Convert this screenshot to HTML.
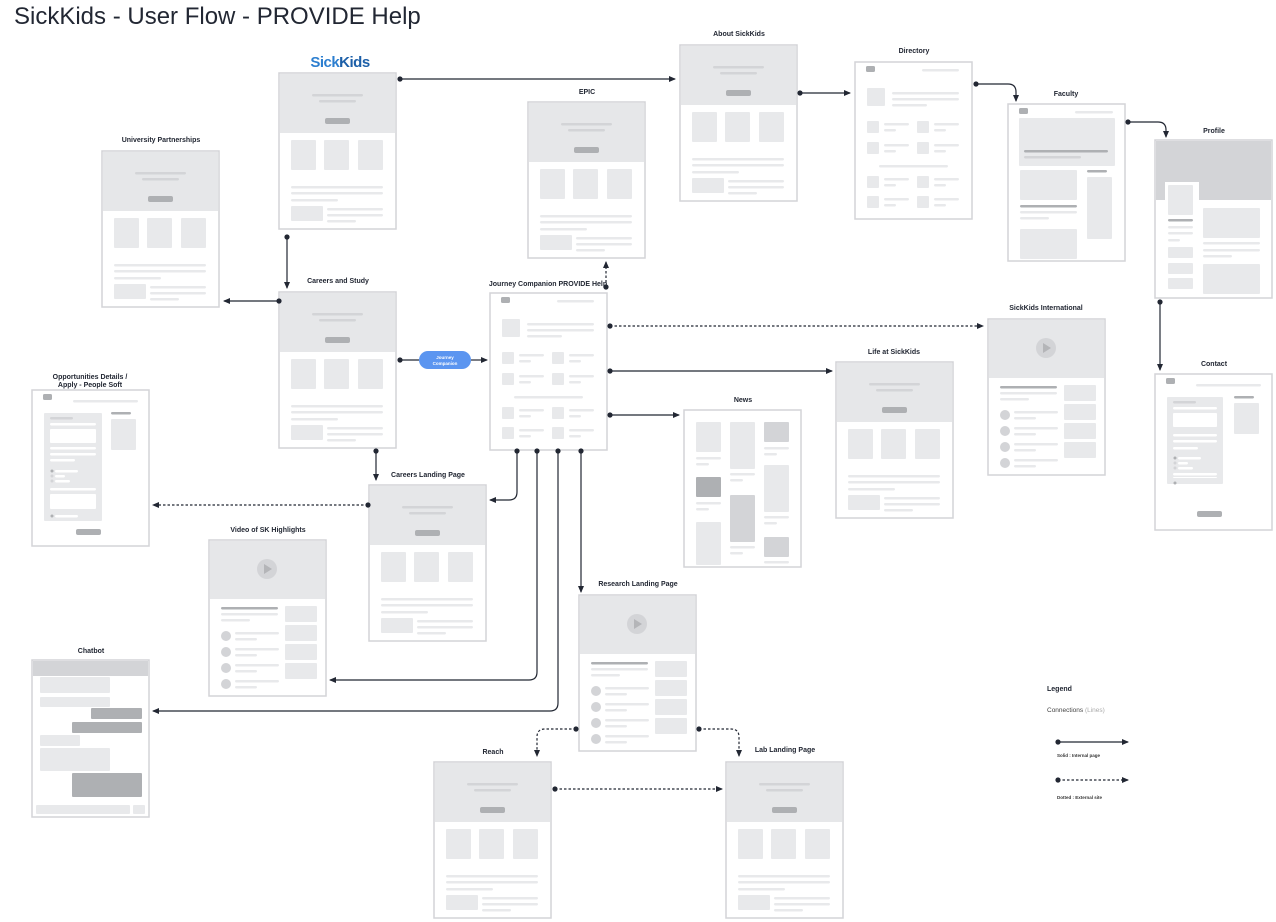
<!DOCTYPE html>
<html><head><meta charset="utf-8"><style>
body{margin:0;background:#fff;width:1276px;height:922px;overflow:hidden}
svg{display:block}
text{font-family:"Liberation Sans",sans-serif}
.lb{font-size:7px;font-weight:bold;fill:#222733;text-anchor:middle}
</style></head><body>
<svg id="s" width="1276" height="922" xmlns="http://www.w3.org/2000/svg">
<defs>
<marker id="ar" markerWidth="8" markerHeight="8" refX="6" refY="3" orient="auto" markerUnits="userSpaceOnUse"><path d="M0,0 L7,3 L0,6z" fill="#222733"/></marker>
</defs>
<text x="14" y="24" style="font-size:24px;fill:#222733">SickKids - User Flow - PROVIDE Help</text>
<text x="340" y="67" style="font-size:15px;font-weight:bold;fill:#2d7fd0;text-anchor:middle;letter-spacing:-0.5px">Sick<tspan fill="#1c5fa8">Kids</tspan></text>
<text class="lb" x="161" y="142">University Partnerships</text>
<text class="lb" x="587" y="94">EPIC</text>
<text class="lb" x="739" y="36">About SickKids</text>
<text class="lb" x="914" y="53">Directory</text>
<text class="lb" x="1066" y="96">Faculty</text>
<text class="lb" x="1214" y="133">Profile</text>
<text class="lb" x="338" y="283">Careers and Study</text>
<text class="lb" x="548" y="286">Journey Companion PROVIDE Help</text>
<text class="lb" x="1046" y="310">SickKids International</text>
<text class="lb" x="894" y="354">Life at SickKids</text>
<text class="lb" x="1214" y="366">Contact</text>
<text class="lb" x="743" y="402">News</text>
<text class="lb" x="90" y="379">Opportunities Details /</text>
<text class="lb" x="90" y="387">Apply - People Soft</text>
<text class="lb" x="428" y="477">Careers Landing Page</text>
<text class="lb" x="268" y="532">Video of SK Highlights</text>
<text class="lb" x="638" y="586">Research Landing Page</text>
<text class="lb" x="91" y="653">Chatbot</text>
<text class="lb" x="493" y="754">Reach</text>
<text class="lb" x="785" y="752">Lab Landing Page</text>
<text x="1047" y="691" style="font-size:7px;font-weight:bold;fill:#222733">Legend</text>
<text x="1047" y="712" style="font-size:6.5px;fill:#444">Connections <tspan fill="#aaa">(Lines)</tspan></text>
<text x="1057" y="757" style="font-size:4.5px;font-weight:bold;fill:#333">Solid : Internal page</text>
<text x="1057" y="799" style="font-size:4.5px;font-weight:bold;fill:#333">Dotted : External site</text>
<g id="w"></g>
<g id="c" fill="none" stroke="#222733" stroke-width="1.2"></g>
</svg>
<script>
var NS="http://www.w3.org/2000/svg",W=document.getElementById('w'),C=document.getElementById('c');
function el(p,t,a){var e=document.createElementNS(NS,t);for(var k in a)e.setAttribute(k,a[k]);p.appendChild(e);return e}
var L='#e8e9eb',D='#aeb0b3',M='#d3d4d7';
function r(g,x,y,w,h,f,rx){el(g,'rect',{x:x,y:y,width:w,height:h,fill:f||L,rx:rx==null?1:rx})}
function ln(g,x,y,w,f){r(g,x,y,w,2.5,f||L,1.2)}
function frame(x,y,w,h){var g=el(W,'g',{transform:'translate('+x+','+y+')'});el(g,'rect',{x:0,y:0,width:w,height:h,fill:'#fff',stroke:'#d3d4d7','stroke-width':1.5});return g}
function land(x,y){var g=frame(x,y,117,156);r(g,1,1,115,59,'#e6e7e9',0);ln(g,33,21,51,M);ln(g,40,27,37,M);r(g,46,45,25,6,D,2);
[12,45,79].forEach(function(a){r(g,a,67,25,30)});ln(g,12,113,92);ln(g,12,119,92);ln(g,12,126,47);r(g,12,133,32,15);ln(g,48,135,56);ln(g,48,141,56);ln(g,48,147,29)}
function list(x,y){var g=frame(x,y,117,157);r(g,11,4,9,6,D,1.5);ln(g,67,7,37);r(g,12,26,18,18);ln(g,37,30,67);ln(g,37,36,67);ln(g,37,42,35);
[[62,83],[117,137]].forEach(function(p){p.forEach(function(yy){r(g,12,yy-3,12,12);ln(g,29,yy-1,25);ln(g,29,yy+5,12);r(g,62,yy-3,12,12);ln(g,79,yy-1,25);ln(g,79,yy+5,12)})});ln(g,24,103,69)}
function vid(x,y){var g=frame(x,y,117,156);r(g,1,1,115,58,'#e6e7e9',0);el(g,'circle',{cx:58,cy:29,r:10,fill:M});el(g,'path',{d:'M55,24 L63,29 L55,34z',fill:'#b4b5b8'});
ln(g,12,67,57,D);ln(g,12,73,57);ln(g,12,79,29);[99,115,131,147].forEach(function(yy){el(g,'circle',{cx:17,cy:yy-3,r:5,fill:M});ln(g,26,yy-7,44);ln(g,26,yy-1,22)});
[66,85,104,123].forEach(function(yy){r(g,76,yy,32,16)})}
function form(x,y){var g=frame(x,y,117,156);r(g,11,4,9,6,D,1.5);ln(g,41,10,65);r(g,12,23,56,87);ln(g,18,27,23,M);ln(g,18,33,44,'#fff');r(g,18,39,44,14,'#fff');ln(g,18,60,44,'#fff');ln(g,18,66,44,'#fff');ln(g,18,73,25,'#fff');
el(g,'circle',{cx:20,cy:84,r:1.5,fill:D});ln(g,23,83,23,'#fff');el(g,'circle',{cx:20,cy:89,r:1.5,fill:M});ln(g,23,88,10,'#fff');el(g,'circle',{cx:20,cy:94,r:1.5,fill:M});ln(g,23,93,15,'#fff');
ln(g,18,99,44,'#fff');r(g,18,103,44,1,'#fff');el(g,'circle',{cx:20,cy:109,r:1.5,fill:D});
ln(g,79,22,20,D);r(g,79,29,25,31);r(g,42,137,25,6,D,2);return g}
function form2(x,y){var g=frame(x,y,117,156);r(g,11,4,9,6,D,1.5);ln(g,41,10,65);r(g,12,23,58,108);ln(g,18,27,23,M);ln(g,18,33,46,'#fff');r(g,18,39,46,14,'#fff');ln(g,18,57,46,'#fff');ln(g,18,63,46,'#fff');ln(g,18,69,25,'#fff');
el(g,'circle',{cx:20,cy:81,r:1.5,fill:D});ln(g,23,80,23,'#fff');el(g,'circle',{cx:20,cy:86,r:1.5,fill:M});ln(g,23,85,10,'#fff');el(g,'circle',{cx:20,cy:91,r:1.5,fill:M});ln(g,23,90,15,'#fff');
ln(g,18,98,46,'#fff');r(g,18,104,46,15,'#fff');el(g,'circle',{cx:20,cy:126,r:1.5,fill:D});ln(g,23,125,23,'#fff');
ln(g,79,22,20,D);r(g,79,29,25,31);r(g,44,139,25,6,D,2)}
land(279,73);land(102,151);land(528,102);land(680,45);land(279,292);land(369,485);land(434,762);land(726,762);land(836,362);
list(855,62);list(490,293);
vid(209,540);vid(988,319);vid(579,595);
form2(32,390);form(1155,374);
(function(){var g=frame(684,410,117,157);r(g,12,12,25,30);ln(g,12,47,25);ln(g,12,53,13);r(g,46,12,25,47);ln(g,46,63,25);ln(g,46,69,13);r(g,80,12,25,20,M);ln(g,80,37,25);ln(g,80,43,13);
r(g,12,67,25,20,D);ln(g,12,92,25);ln(g,12,98,13);r(g,46,85,25,47,M);ln(g,46,136,25);ln(g,46,142,13);r(g,80,55,25,47);ln(g,80,106,25);ln(g,80,112,13);r(g,12,112,25,43);r(g,80,127,25,20,M);ln(g,80,151,25)})();
(function(){var g=frame(1008,104,117,157);r(g,11,4,9,6,D,1.5);ln(g,67,7,38);r(g,11,14,96,48);ln(g,16,46,84,D);ln(g,16,52,57,M);r(g,12,66,57,30);ln(g,12,101,57,D);ln(g,12,107,57);ln(g,12,113,29);r(g,12,125,57,30);ln(g,79,66,20,D);r(g,79,73,25,62)})();
(function(){var g=frame(1155,140,117,158);r(g,1,1,115,59,M,0);r(g,10,42,34,114,'#fff',0);r(g,13,45,25,30);ln(g,13,79,25,D);ln(g,13,86,25);ln(g,13,92,25);ln(g,13,99,12);r(g,13,107,25,11);r(g,13,123,25,11);r(g,13,138,25,11);r(g,48,68,57,30);ln(g,48,102,57);ln(g,48,109,57);ln(g,48,115,29);r(g,48,124,57,30)})();
(function(){var g=frame(32,660,117,157);r(g,1,1,115,15,M,0);r(g,8,17,70,16);r(g,8,37,70,10);r(g,59,48,51,11,D);r(g,40,62,70,11,D);r(g,8,75,40,11);r(g,8,88,70,23);r(g,40,113,70,24,D);r(g,4,145,94,9);r(g,101,145,12,9)})();
function P(d,dash,arrow){var a={d:d};if(dash)a['stroke-dasharray']='2.5,2';if(arrow!==false)a['marker-end']='url(#ar)';el(C,'path',a)}
function dot(x,y){el(C,'circle',{cx:x,cy:y,r:2.6,fill:'#222733',stroke:'none'})}
var cs=[
['M400,79 H675'],['M287,237 V288'],['M279,301 H224'],['M400,360 H419',0,false],['M471,360 H487'],['M376,451 V480'],
['M368,505 H153',1],['M606,287 V262',1],['M610,326 H983',1],['M610,371 H832'],['M610,415 H679'],
['M517,451 V492 Q517,500 509,500 H490'],['M537,451 V672 Q537,680 529,680 H330'],['M558,451 V703 Q558,711 550,711 H153'],['M581,451 V592'],
['M800,93 H850'],['M976,84 H1008 Q1016,84 1016,92 V101'],['M1128,122 H1158 Q1166,122 1166,130 V137'],['M1160,302 V370'],
['M576,729 H545 Q537,729 537,737 V756',1],['M699,729 H731 Q739,729 739,737 V756',1],['M555,789 H722',1],
['M1058,742 H1128'],['M1058,780 H1128',1]];
cs.forEach(function(c){P(c[0],c[1],c[2])});
[[400,79],[287,237],[279,301],[400,360],[376,451],[368,505],[606,287],[610,326],[610,371],[610,415],[517,451],[537,451],[558,451],[581,451],[800,93],[976,84],[1128,122],[1160,302],[576,729],[699,729],[555,789],[1058,742],[1058,780]].forEach(function(p){dot(p[0],p[1])});
el(C,'rect',{x:419,y:351,width:52,height:18,rx:9,fill:'#5b95f0',stroke:'none'});
var t1=el(C,'text',{x:445,y:359,'font-size':4.5,'font-weight':'bold',fill:'#fff','text-anchor':'middle',stroke:'none'});t1.textContent='Journey';
var t2=el(C,'text',{x:445,y:365,'font-size':4.5,'font-weight':'bold',fill:'#fff','text-anchor':'middle',stroke:'none'});t2.textContent='Companion';
</script>
</body></html>
